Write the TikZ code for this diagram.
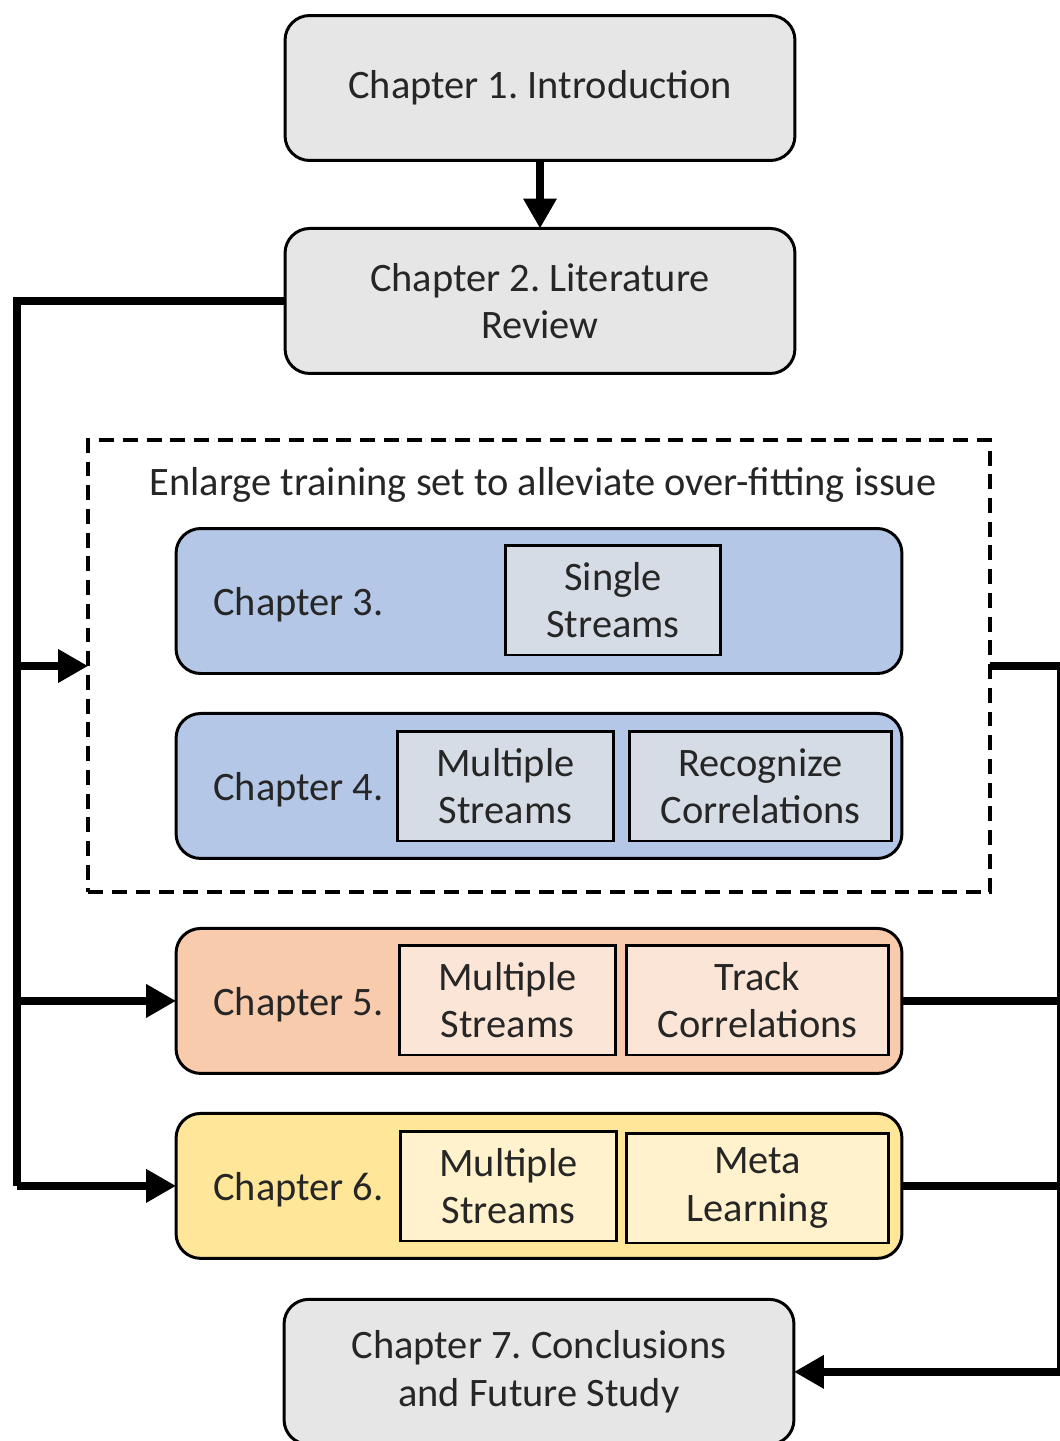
\documentclass[tikz,border=0pt]{standalone}
\usepackage{fontspec}
\setmainfont{Carlito}
\usetikzlibrary{positioning, arrows.meta}

\definecolor{chapgray}{HTML}{E6E6E6}
\definecolor{chapblue}{HTML}{B4C7E7}
\definecolor{innerblue}{HTML}{D6DCE5}
\definecolor{chaporange}{HTML}{F8CBAD}
\definecolor{innerorange}{HTML}{FBE5D6}
\definecolor{chapyellow}{HTML}{FFE699}
\definecolor{inneryellow}{HTML}{FFF2CC}
\definecolor{txt}{HTML}{262626}

\begin{document}
\frenchspacing
\begin{tikzpicture}[
  x=0.02cm, y=-0.02cm,
  font=\fontsize{23}{27}\selectfont, text=txt,
  mainbox/.style={draw, line width=1.7pt, outer sep=0pt, rounded corners=14pt, minimum width=10.2cm, minimum height=2.9cm, align=center, fill=chapgray},
  chapbox/.style={draw, line width=1.7pt, outer sep=0pt, rounded corners=14pt, minimum width=14.52cm, minimum height=2.9cm},
  subbox/.style={draw, line width=1.7pt, minimum width=4.32cm, minimum height=2.2cm, align=center},
  widebox/.style={subbox, minimum width=5.24cm},
  flow/.style={line width=4.5pt, -{Triangle[length=17pt, width=18pt]}},
  link/.style={line width=4.5pt}
]
  \useasboundingbox (0,0) rectangle (1059,1441);

  \node[mainbox] (intro) at (540,88) {Chapter 1. Introduction};
  \node[mainbox, below=1.36cm of intro] (review) {Chapter 2. Literature\\Review};

  \node[draw, line width=2pt, dash pattern=on 8.5pt off 5pt, outer sep=0pt, minimum width=18.04cm, minimum height=9.04cm] (group) at (539,666) {};
  \node (grouptitle) at (543,485) {Enlarge training set to alleviate over-fitting issue};

  \node[chapbox, fill=chapblue] (ch3) at (539,601) {};
  \node[anchor=west] (ch3lab) at (ch3.west) [xshift=0.62cm, yshift=-2pt] {Chapter 3.};
  \node[subbox, fill=innerblue] (ch3a) at (613,600) {Single\\Streams};

  \node[chapbox, fill=chapblue, below=0.8cm of ch3] (ch4) {};
  \node[anchor=west] (ch4lab) at (ch4.west) [xshift=0.62cm, yshift=-2pt] {Chapter 4.};
  \node[subbox, fill=innerblue] (ch4a) at (505.5,786) {Multiple\\Streams};
  \node[widebox, fill=innerblue] (ch4b) at (760.5,786) {Recognize\\Correlations};

  \node[chapbox, fill=chaporange, below=1.4cm of ch4] (ch5) {};
  \node[anchor=west] (ch5lab) at (ch5.west) [xshift=0.62cm, yshift=-2pt] {Chapter 5.};
  \node[subbox, fill=innerorange] (ch5a) at (507.5,1000) {Multiple\\Streams};
  \node[widebox, fill=innerorange] (ch5b) at (757.5,1000) {Track\\Correlations};

  \node[chapbox, fill=chapyellow, below=0.8cm of ch5] (ch6) {};
  \node[anchor=west] (ch6lab) at (ch6.west) [xshift=0.62cm, yshift=-2pt] {Chapter 6.};
  \node[subbox, fill=inneryellow] (ch6a) at (508.5,1186) {Multiple\\Streams};
  \node[widebox, fill=inneryellow] (ch6b) at (757.5,1188) {Meta\\Learning};

  \node[mainbox, below=0.82cm of ch6] (concl) {Chapter 7. Conclusions\\and Future Study};

  \coordinate (leftbus) at (17,0);
  \coordinate (rightbus) at (1061,0);

  \draw[flow] (intro) -- (review);
  \draw[link] (review.west) -| (leftbus |- ch6.west);
  \draw[flow] (leftbus |- group.west) -- (group.west);
  \draw[flow] (leftbus |- ch5.west) -- (ch5.west);
  \draw[flow] (leftbus |- ch6.west) -- (ch6.west);

  \draw[link] (group.east) -- (rightbus |- group.east);
  \draw[link] (ch5.east) -- (rightbus |- ch5.east);
  \draw[link] (ch6.east) -- (rightbus |- ch6.east);
  \draw[flow] (rightbus |- group.east) |- (concl.east);
\end{tikzpicture}
\end{document}
